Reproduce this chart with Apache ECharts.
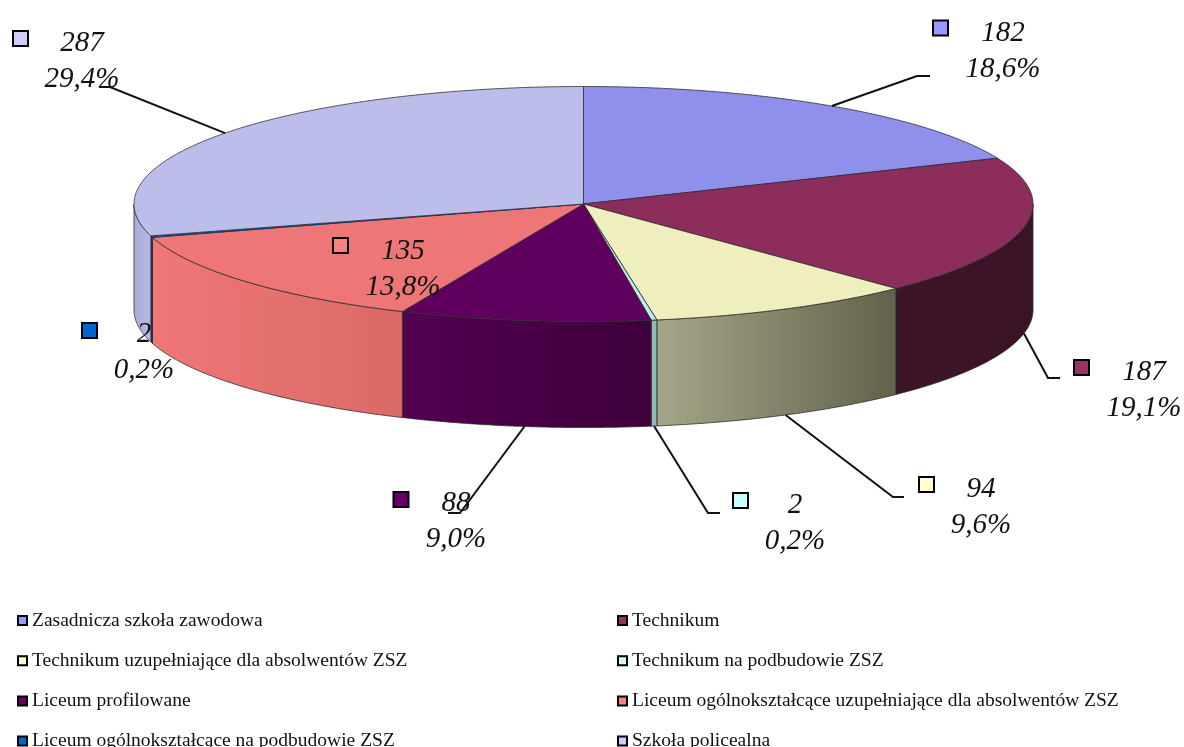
<!DOCTYPE html>
<html>
<head>
<meta charset="utf-8">
<style>html,body{margin:0;padding:0;background:#fff}#chart{width:1184px;height:747px}</style>
<script src="https://cdn.jsdelivr.net/npm/echarts@6/dist/echarts.min.js"></script>
</head>
<body>
<div id="chart"></div>
<script>
// Graduates by school type
const categories = [
  'Zasadnicza szkoła zawodowa', 'Technikum',
  'Technikum uzupełniające dla absolwentów ZSZ', 'Technikum na podbudowie ZSZ',
  'Liceum profilowane', 'Liceum ogólnokształcące uzupełniające dla absolwentów ZSZ',
  'Liceum ogólnokształcące na podbudowie ZSZ', 'Szkoła policealna'
];
const values = [182, 187, 94, 2, 88, 135, 2, 287];
const percentLabels = ['18,6%', '19,1%', '9,6%', '0,2%', '9,0%', '13,8%', '0,2%', '29,4%'];

// Colours: key swatches, lit top faces, and the shaded rim (left to right)
const keyColors = ['#9999FF', '#993366', '#FFFFCC', '#CCFFFF', '#660066', '#FF8080', '#0066CC', '#CCCCFF'];
const topColors = ['#8F8FEC', '#8C2D5B', '#EEEEBE', '#BFEBEB', '#5F005F', '#EE7676', '#0A4C8C', '#BDBDEC'];
const rimFrom = ['#6B6BB0', '#3C1428', '#A5A587', '#8FB8B8', '#520050', '#EF7777', '#0C4070', '#ABABD8'];
const rimTo = ['#6B6BB0', '#3A1426', '#62624C', '#8FB8B8', '#3E003C', '#DA6A66', '#0C4070', '#B8B8E4'];

// Projected disc geometry
const disc = { cx: 583.5, cy: 204, rx: 449.5, ry: 117.5, depth: 106 };

// Callout placement: swatch centre, text centre, first and second baselines
const calloutSpots = [
  { key: [940.5, 28], textX: 1003, base: [41, 77] },
  { key: [1081.5, 367.5], textX: 1144, base: [380, 416] },
  { key: [926.5, 484.5], textX: 981, base: [497, 533] },
  { key: [740.5, 500.5], textX: 795, base: [513, 549] },
  { key: [401, 499.5], textX: 456, base: [511, 547] },
  { key: [340.5, 245.5], textX: 403, base: [259, 295] },
  { key: [89.5, 330.5], textX: 144, base: [342, 378] },
  { key: [20.5, 38.5], textX: 82, base: [51, 87] }
];
// Distance from a text line's baseline down to the bottom of its line box
const baselineDrop = 6.5;
// Leader line bend and end; null where the callout sits next to its slice
const leaderBends = [
  [[917, 76], [930, 76]],
  [[1048, 378], [1060, 378]],
  [[893, 497], [904, 497]],
  [[708, 513], [720, 513]],
  [[460, 513], [448, 513]],
  null,
  null,
  [[110, 87], [99, 87]]
];

const total = values.reduce((a, b) => a + b, 0);
const starts = values.map((_, i) => values.slice(0, i).reduce((a, b) => a + b, 0) / total * 2 * Math.PI);

// Angles run clockwise from twelve o'clock
function edgePoint(a, drop) {
  return [disc.cx + disc.rx * Math.sin(a), disc.cy - disc.ry * Math.cos(a) + (drop || 0)];
}
function sampleArc(a0, a1, drop) {
  const n = Math.max(2, Math.ceil((a1 - a0) / 0.006));
  const pts = [];
  for (let k = 0; k <= n; k++) pts.push(edgePoint(a0 + (a1 - a0) * k / n, drop));
  return pts;
}

function renderSlice(i) {
  return function (params, api) {
    const a0 = starts[i];
    const a1 = a0 + api.value(0) / total * 2 * Math.PI;
    const children = [];
    // The rim shows only on the front half of the disc
    const f0 = Math.max(a0, Math.PI / 2);
    const f1 = Math.min(a1, Math.PI * 1.5);
    if (f1 > f0) {
      const upper = sampleArc(f0, f1, 0);
      const lower = sampleArc(f0, f1, disc.depth).reverse();
      children.push({
        type: 'polygon',
        shape: { points: upper.concat(lower) },
        style: {
          fill: new echarts.graphic.LinearGradient(0, 0, 1, 0, [
            { offset: 0, color: rimFrom[i] }, { offset: 1, color: rimTo[i] }
          ]),
          stroke: '#2c2c2c', lineWidth: 0.8
        }
      });
    }
    children.push({
      type: 'polygon',
      shape: { points: [[disc.cx, disc.cy]].concat(sampleArc(a0, a1, 0)) },
      style: { fill: topColors[i], stroke: i === 6 ? '#0A3C70' : '#2c2c2c', lineWidth: 0.8 }
    });
    return { type: 'group', children };
  };
}

function renderCallout(params, api) {
  const i = params.dataIndex;
  const spot = calloutSpots[i];
  const children = [];
  const bend = leaderBends[i];
  if (bend) {
    const mid = starts[i] + api.value(0) / total * Math.PI;
    const onFront = mid > Math.PI / 2 && mid < Math.PI * 1.5;
    children.push({
      type: 'polyline',
      shape: { points: [edgePoint(mid, onFront ? disc.depth : 0), bend[0], bend[1]] },
      style: { fill: 'none', stroke: '#111', lineWidth: 2 }
    });
  }
  children.push({
    type: 'rect',
    shape: { x: spot.key[0] - 7.5, y: spot.key[1] - 7.5, width: 15, height: 15 },
    style: { fill: keyColors[i], stroke: '#000', lineWidth: 2 }
  });
  [String(api.value(0)), percentLabels[i]].forEach((line, k) => {
    children.push({
      type: 'text',
      style: {
        text: line, x: spot.textX, y: spot.base[k] + baselineDrop,
        font: 'italic 29px "Liberation Serif"', fill: '#111',
        align: 'center', verticalAlign: 'bottom'
      }
    });
  });
  return { type: 'group', children };
}

const sliceSeries = categories.map((name, i) => ({
  type: 'custom', name, coordinateSystem: 'none', silent: true, z: 2,
  itemStyle: { color: keyColors[i] },
  data: [[values[i]]],
  renderItem: renderSlice(i)
}));

function keyColumn(left, indices) {
  return {
    orient: 'vertical', left, top: 610.5, height: 200, padding: 0, icon: 'rect', selectedMode: false,
    itemWidth: 9, itemHeight: 9, itemGap: 20.2,
    textStyle: { fontFamily: 'Liberation Serif', fontSize: 19.5, color: '#111', padding: 0 },
    data: indices.map(i => ({
      name: categories[i],
      itemStyle: { color: keyColors[i], borderColor: '#000', borderWidth: 2 }
    }))
  };
}

const chart = echarts.init(document.getElementById('chart'), null, { renderer: 'canvas' });
chart.setOption({
  backgroundColor: '#fff',
  animation: false,
  legend: [keyColumn(17, [0, 2, 4, 6]), keyColumn(617, [1, 3, 5, 7])],
  series: sliceSeries.concat([{
    type: 'custom', name: 'callouts', coordinateSystem: 'none', silent: true, z: 5,
    data: values.map(v => [v]),
    renderItem: renderCallout
  }])
});
</script>
</body>
</html>
